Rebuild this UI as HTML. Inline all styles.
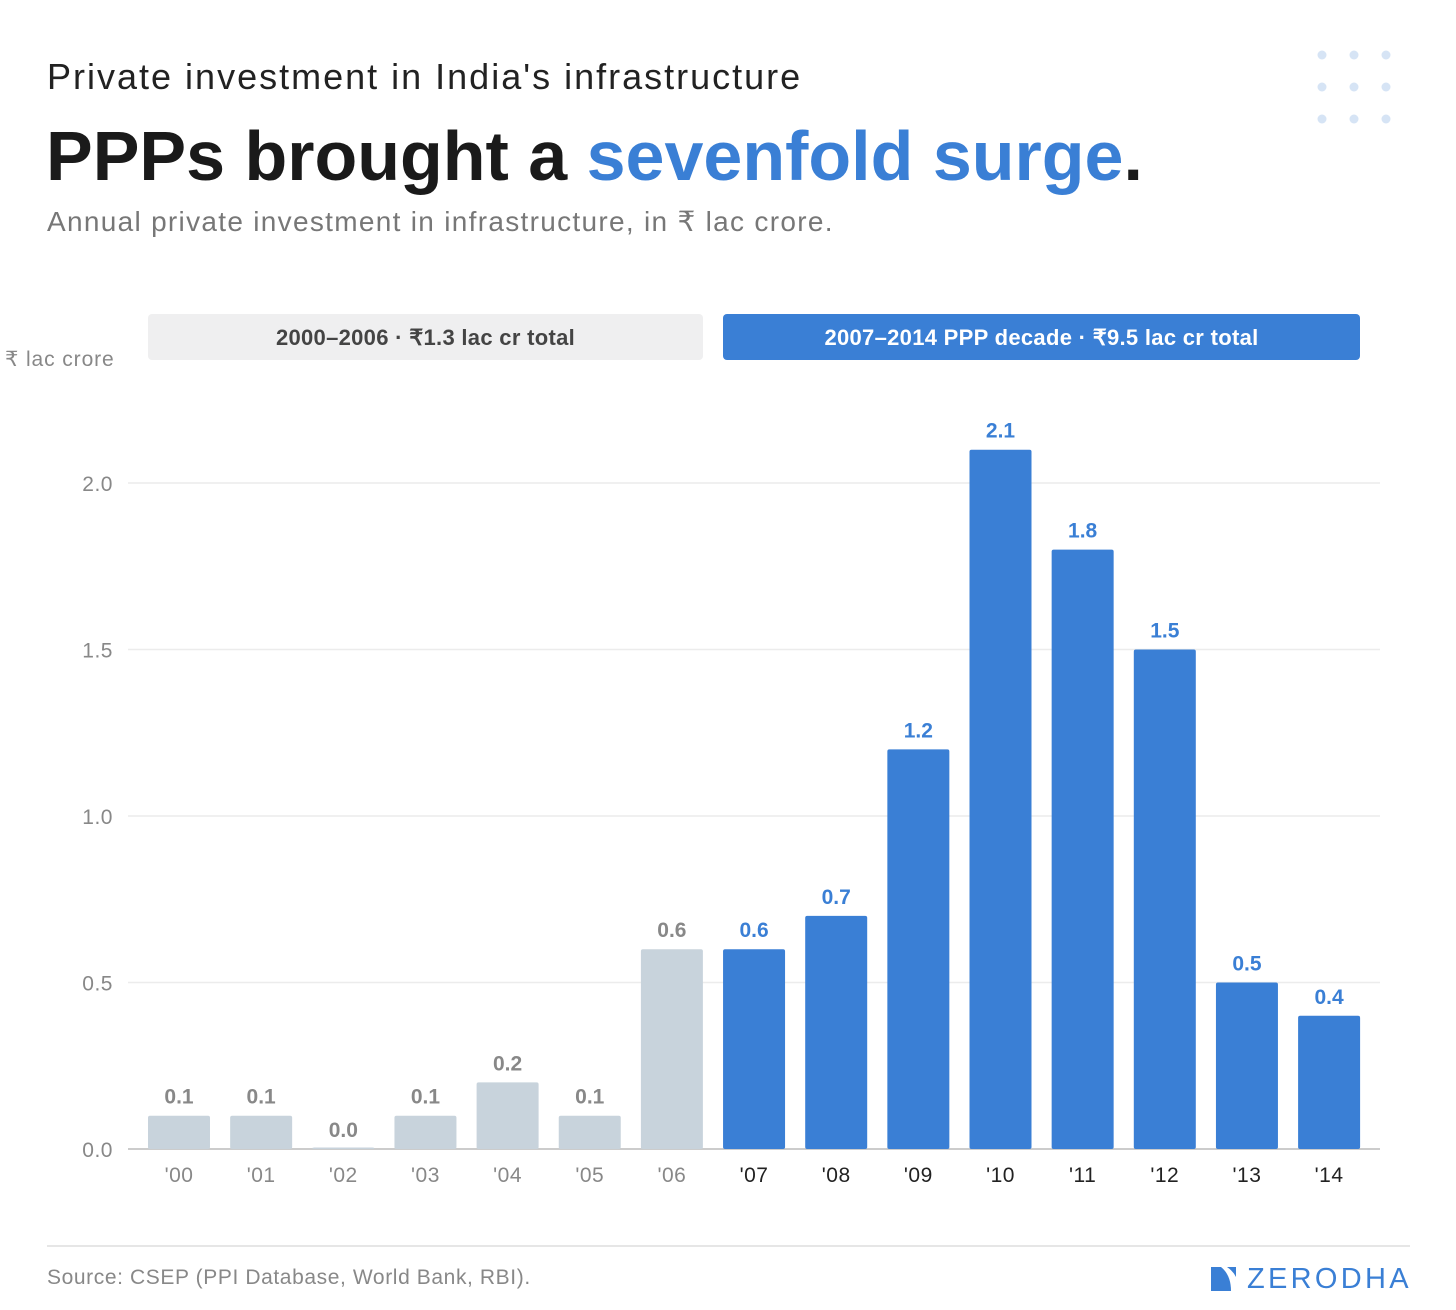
<!DOCTYPE html>
<html><head><meta charset="utf-8"><style>
body{margin:0;width:1456px;height:1310px;background:#fff;font-family:"Liberation Sans",sans-serif;position:relative;overflow:hidden}
.a{position:absolute;margin:0;white-space:nowrap}
</style></head><body>
<div class="a" style="left:47px;top:56px;font-size:36px;color:#222;letter-spacing:2px">Private investment in India's infrastructure</div>
<div class="a" style="left:46px;top:116px;font-size:70px;font-weight:bold;color:#1a1a1a;letter-spacing:0px">PPPs brought a <span style="color:#3a7fd5">sevenfold surge</span>.</div>
<div class="a" style="left:47px;top:205px;font-size:28px;color:#777;letter-spacing:1.3px">Annual private investment in infrastructure, in ₹ lac crore.</div>
<svg class="a" style="left:1310px;top:45px" width="90" height="90">
<g fill="#d6e4f5"><circle cx="12" cy="10" r="4.5"/><circle cx="44" cy="10" r="4.5"/><circle cx="76" cy="10" r="4.5"/><circle cx="12" cy="42" r="4.5"/><circle cx="44" cy="42" r="4.5"/><circle cx="76" cy="42" r="4.5"/><circle cx="12" cy="74" r="4.5"/><circle cx="44" cy="74" r="4.5"/><circle cx="76" cy="74" r="4.5"/></g></svg>
<svg id="chart" class="a" style="left:0;top:0" width="1456" height="1310"></svg>
<div class="a" style="left:47px;top:1245px;width:1363px;height:2px;background:#e6e6e6"></div>
<div class="a" style="left:47px;top:1266px;font-size:21px;color:#888;letter-spacing:0.6px">Source: CSEP (PPI Database, World Bank, RBI).</div>
<div class="a" style="left:1211px;top:1264px;height:30px;display:flex;align-items:center">
<svg width="26" height="24"><path d="M0 0H10Q20 8 20 24H0Z" fill="#3a7fd5"/><path d="M16 0H25V10Q22 4 16 0Z" fill="#3a7fd5"/></svg>
<span style="font-size:29px;color:#3a7fd5;margin-left:10px;letter-spacing:3.3px">ZERODHA</span></div>
<script>
const years=["'00","'01","'02","'03","'04","'05","'06","'07","'08","'09","'10","'11","'12","'13","'14"];
const values=[0.1,0.1,0.0,0.1,0.2,0.1,0.6,0.6,0.7,1.2,2.1,1.8,1.5,0.5,0.4];
const valueLabels=["0.1","0.1","0.0","0.1","0.2","0.1","0.6","0.6","0.7","1.2","2.1","1.8","1.5","0.5","0.4"];
const pppStart=7;
const yTicks=[0,0.5,1.0,1.5,2.0];
const yTickLabels=["0.0","0.5","1.0","1.5","2.0"];
const svg=document.getElementById('chart');const NS='http://www.w3.org/2000/svg';
const y0=1149,pxPerUnit=333,x0=148,step=82.15,bw=62;
const y=v=>y0-v*pxPerUnit;const x=i=>x0+i*step;
function mk(t,a,p){const e=document.createElementNS(NS,t);for(const k in a)e.setAttribute(k,a[k]);(p||svg).appendChild(e);return e;}
yTicks.forEach((t,i)=>{
 const l=mk('line',{x1:128,x2:1380,y1:y(t),y2:y(t),stroke:i===0?'#ccc':'#ececec','stroke-width':i===0?2:1.5});
 
 
 const tx=mk('text',{x:113,y:y(t)+8,'text-anchor':'end','font-size':21,fill:'#888','font-family':'Liberation Sans','letter-spacing':0.5});tx.textContent=yTickLabels[i];
 
 
});
const yt=mk('text',{x:5,y:366,'font-size':21,fill:'#888','font-family':'Liberation Sans','letter-spacing':0.9});yt.textContent='₹ lac crore';


const b1=mk('rect',{x:148,y:314,width:555,height:46,rx:4,fill:'#efeff0'});


const t1=mk('text',{x:425.5,y:345,'text-anchor':'middle','font-size':22,'font-weight':'bold',fill:'#444','font-family':'Liberation Sans','letter-spacing':0.3});t1.textContent='2000–2006 · ₹1.3 lac cr total';


const b2=mk('rect',{x:723,y:314,width:637,height:46,rx:4,fill:'#3a7fd5'});


const t2=mk('text',{x:1041.5,y:345,'text-anchor':'middle','font-size':22,'font-weight':'bold',fill:'#fff','font-family':'Liberation Sans','letter-spacing':0.3});t2.textContent='2007–2014 PPP decade · ₹9.5 lac cr total';


values.forEach((v,i)=>{
 const ppp=i>=pppStart;const h=Math.max(v*pxPerUnit,1.5);
 const r=mk('rect',{x:x(i),y:y0-h,width:bw,height:h,rx:2,fill:ppp?'#3a7fd5':'#c8d3dc'});
 
 
 const lb=mk('text',{x:x(i)+bw/2,y:y(v)-12,'text-anchor':'middle','font-size':21,'font-weight':'bold',fill:ppp?'#3a7fd5':'#888','font-family':'Liberation Sans'});lb.textContent=valueLabels[i];
 
 
 const xl=mk('text',{x:x(i)+bw/2,y:1182,'text-anchor':'middle','font-size':21,fill:ppp?'#222':'#888','font-family':'Liberation Sans','letter-spacing':0.5});xl.textContent=years[i];
 
 
});
</script>
</body></html>
